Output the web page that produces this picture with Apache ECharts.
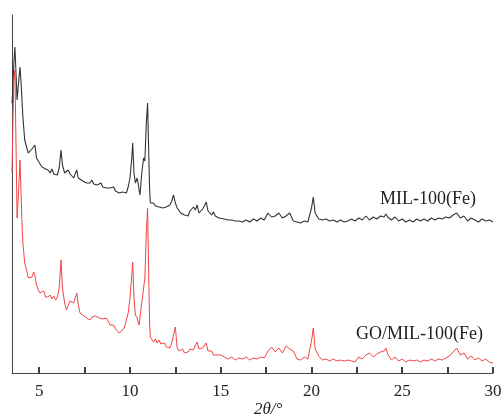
<!DOCTYPE html>
<html>
<head>
<meta charset="utf-8">
<script src="https://cdn.jsdelivr.net/npm/echarts@6/dist/echarts.min.js"></script>
<style>
html,body{margin:0;padding:0;background:#fff;}
#chart{width:503px;height:414px;}
</style>
</head>
<body>
<div id="chart"></div>
<script>
// 2θ sample positions (degrees)
const twoTheta = [
3.5,3.55,3.6,3.66,3.72,3.78,3.86,3.94,4.0,4.05,4.1,4.2,4.3,4.4,4.5,4.6,4.7,4.76,4.85,4.95,
5.04,5.15,5.25,5.35,5.48,5.6,5.7,5.8,5.9,6.0,6.1,6.2,6.28,6.4,6.5,6.6,6.7,6.8,6.9,7.0,
7.07,7.15,7.25,7.4,7.5,7.6,7.7,7.8,7.9,8.0,8.1,8.2,8.3,8.4,8.5,8.6,8.7,8.8,8.9,9.0,
9.1,9.2,9.3,9.4,9.5,9.6,9.7,9.8,9.9,10.0,10.1,10.15,10.22,10.3,10.4,10.5,10.55,10.65,10.75,10.82,
10.9,10.97,11.02,11.08,11.12,
11.2,11.3,11.4,11.5,11.6,11.7,11.8,11.9,12.0,12.1,12.2,12.3,12.4,12.5,12.6,12.7,12.8,12.9,13.0,
13.1,13.2,13.3,13.4,13.5,13.6,13.7,13.8,13.9,14.0,14.1,14.2,14.3,14.4,14.5,14.6,14.7,14.8,14.9,15.0,
15.2,15.4,15.6,15.8,16.0,16.2,16.4,16.6,16.8,17.0,17.2,17.4,17.6,17.8,18.0,18.2,18.4,18.6,18.8,19.0,
19.2,19.4,19.6,19.8,20.0,20.1,20.2,20.4,20.6,20.8,21.0,21.2,21.4,21.6,21.8,22.0,22.2,22.4,22.6,22.8,
23.0,23.2,23.4,23.6,23.8,24.0,24.1,24.2,24.4,24.6,24.8,25.0,25.2,25.4,25.6,25.8,26.0,26.2,26.4,26.6,
26.8,27.0,27.2,27.4,27.6,27.8,28.0,28.2,28.4,28.6,28.8,29.0,29.2,29.4,29.6,29.8,30.0
];

// MIL-100(Fe) intensity (a.u.)
const milIntensity = [
270,285,310,326,300,273,290,306,290,273,256,233,226,220,222,224,226,228,215,212,
210,206,208,204,203,200,204,199,201,198,205,223,208,200,198,203,199,201,195,200,
203,195,193,192,194,190,191,190,193,189,191,188,188,190,186,188,185,187,185,184,
186,182,181,180,178,181,179,180,186,195,215,230,200,190,195,183,178,200,215,212,
250,270,230,185,170,
168,170,167,169,166,168,165,167,166,164,168,172,178,170,165,163,160,162,158,
160,157,162,164,166,163,168,160,162,164,167,171,162,160,158,161,157,158,155,156,
154,153,153,152,152,151,153,151,154,152,155,153,160,156,157,160,155,157,160,152,
151,150,152,151,165,176,160,154,153,154,152,153,151,153,151,152,154,152,155,153,
157,153,156,154,157,156,159,156,153,156,152,154,151,153,151,154,152,154,152,155,
153,155,154,156,155,158,160,155,157,152,155,153,151,154,152,153,151
];

// GO/MIL-100(Fe) intensity (a.u.)
const goMilIntensity = [
200,250,290,303,230,155,180,213,180,150,130,110,103,95,93,96,101,98,88,83,
80,78,82,76,76,78,74,77,73,76,85,113,85,70,63,68,72,73,70,76,
80,68,60,58,56,55,53,53,56,54,57,55,55,57,54,53,55,52,48,46,
48,44,42,40,41,43,46,48,60,75,98,111,75,58,55,48,46,70,85,95,
140,165,110,50,36,
35,31,34,30,33,29,27,30,26,27,25,30,32,46,25,22,21,24,20,
22,21,24,26,23,28,31,24,22,25,27,30,22,20,22,18,20,18,17,18,
16,14,16,13,15,14,16,13,15,14,16,15,22,26,21,25,20,27,24,22,
14,13,16,14,32,45,24,17,13,14,12,14,12,13,12,13,12,11,16,14,
18,20,16,19,21,22,25,19,13,16,12,14,11,13,12,13,11,13,12,14,
12,14,13,15,17,21,25,18,20,14,17,13,15,12,14,11,10
];

const xLabelValues = [5, 10, 15, 20, 25, 30];
const xTickValues = [5, 7.5, 10, 12.5, 15, 17.5, 20, 22.5, 25, 27.5, 30];
const seriesNames = ['MIL-100(Fe)', 'GO/MIL-100(Fe)'];
const xAxisTitle = '2θ/°';

const chart = echarts.init(document.getElementById('chart'), null, {renderer: 'canvas'});
const serif = '"Liberation Serif", "DejaVu Serif", serif';
const tickLen = 6; // in intensity units (≈ px)

chart.setOption({
  animation: false,
  backgroundColor: '#ffffff',
  grid: {left: 12, right: 10, top: 15, bottom: 41, outerBoundsMode: 'none', containLabel: false},
  xAxis: {
    type: 'value', min: 3.5, max: 30,
    axisLine: {show: true, onZero: false, lineStyle: {color: '#444', width: 1}},
    axisTick: {show: true, inside: true, length: 6, customValues: xTickValues, lineStyle: {color: '#333', width: 1.5}},
    axisLabel: {show: true, customValues: xLabelValues, color: '#222', fontFamily: serif, fontSize: 17, margin: 10},
    splitLine: {show: false}
  },
  yAxis: {
    type: 'value', min: 0, max: 358,
    axisLine: {show: true, lineStyle: {color: '#444', width: 1}},
    axisTick: {show: false}, axisLabel: {show: false}, splitLine: {show: false}
  },
  series: [
    {
      name: seriesNames[0], type: 'line', showSymbol: false, symbol: 'none',
      data: twoTheta.map((t, i) => [t, milIntensity[i]]),
      lineStyle: {color: '#333333', width: 1.1},
      markLine: {
        silent: true, symbol: ['none', 'none'], animation: false, z: 10,
        label: {show: false},
        lineStyle: {color: '#333', width: 1.5, type: 'solid', opacity: 1},
        data: xTickValues.map(v => [{coord: [v, 0]}, {coord: [v, tickLen]}])
      }
    },
    {
      name: seriesNames[1], type: 'line', showSymbol: false, symbol: 'none',
      data: twoTheta.map((t, i) => [t, goMilIntensity[i]]),
      lineStyle: {color: '#f24545', width: 1}
    }
  ],
  graphic: [
    {type: 'text', left: 380, top: 190, style: {text: seriesNames[0], font: '18px ' + serif, fill: '#222'}},
    {type: 'text', left: 356, top: 325, style: {text: seriesNames[1], font: '18px ' + serif, fill: '#222'}},
    {type: 'text', left: 254, top: 401, style: {text: xAxisTitle, font: 'italic 17px ' + serif, fill: '#222'}}
  ]
});
</script>
</body>
</html>
